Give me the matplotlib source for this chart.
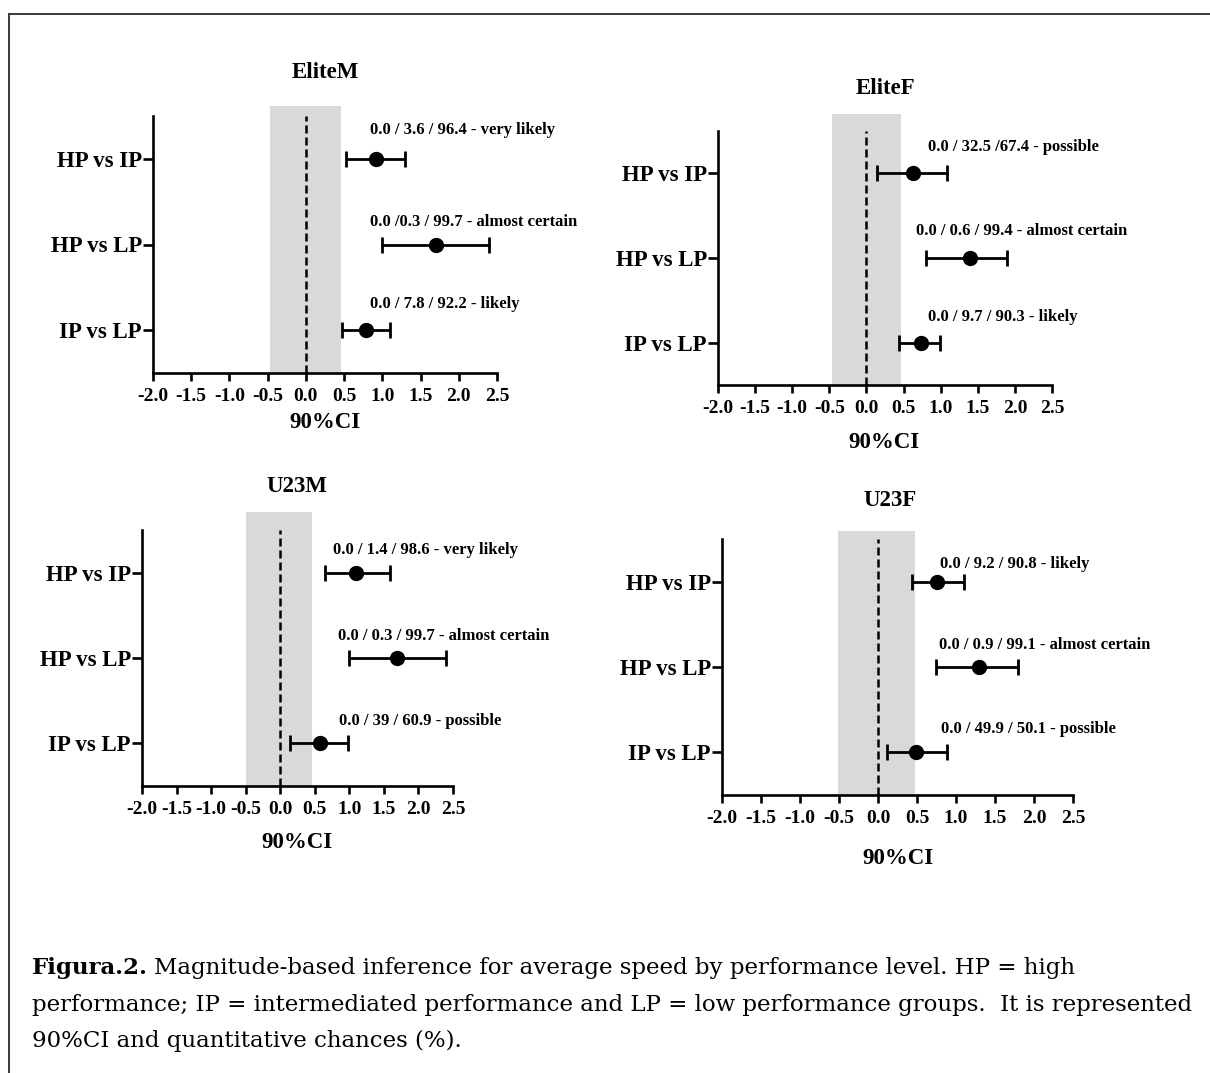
import numpy as np
import matplotlib
matplotlib.use('Agg')
import matplotlib.pyplot as plt
from matplotlib.lines import Line2D

plt.rcParams['font.family'] = 'Liberation Serif'
plt.rcParams['axes.unicode_minus'] = False

W, H = 1210, 1073

comparisons = ['HP vs IP', 'HP vs LP', 'IP vs LP']
xticks = [-2.0, -1.5, -1.0, -0.5, 0.0, 0.5, 1.0, 1.5, 2.0, 2.5]

# EliteM
elite_m_mean = [0.92, 1.70, 0.78]
elite_m_low = [0.53, 0.99, 0.47]
elite_m_high = [1.30, 2.40, 1.10]
elite_m_text = ['0.0 / 3.6 / 96.4 - very likely',
                '0.0 /0.3 / 99.7 - almost certain',
                '0.0 / 7.8 / 92.2 - likely']
elite_m_band = [-0.47, 0.46]

# EliteF
elite_f_mean = [0.63, 1.40, 0.74]
elite_f_low = [0.14, 0.80, 0.44]
elite_f_high = [1.09, 1.90, 0.99]
elite_f_text = ['0.0 / 32.5 /67.4 - possible',
                '0.0 / 0.6 / 99.4 - almost certain',
                '0.0 / 9.7 / 90.3 - likely']
elite_f_band = [-0.47, 0.46]

# U23M
u23_m_mean = [1.09, 1.69, 0.57]
u23_m_low = [0.65, 0.99, 0.14]
u23_m_high = [1.59, 2.40, 0.98]
u23_m_text = ['0.0 / 1.4 / 98.6 - very likely',
              '0.0 / 0.3 / 99.7 - almost certain',
              '0.0 / 39 / 60.9 - possible']
u23_m_band = [-0.50, 0.46]

# U23F
u23_f_mean = [0.75, 1.29, 0.49]
u23_f_low = [0.43, 0.74, 0.12]
u23_f_high = [1.10, 1.79, 0.88]
u23_f_text = ['0.0 / 9.2 / 90.8 - likely',
              '0.0 / 0.9 / 99.1 - almost certain',
              '0.0 / 49.9 / 50.1 - possible']
u23_f_band = [-0.51, 0.48]

panels = [
    ('EliteM', elite_m_mean, elite_m_low, elite_m_high, elite_m_text, elite_m_band),
    ('EliteF', elite_f_mean, elite_f_low, elite_f_high, elite_f_text, elite_f_band),
    ('U23M', u23_m_mean, u23_m_low, u23_m_high, u23_m_text, u23_m_band),
    ('U23F', u23_f_mean, u23_f_low, u23_f_high, u23_f_text, u23_f_band),
]

# layout in pixels: axes left, right, top(y=3.5), bottom(y=0.5), band top (data), title xy, xlabel xy
boxes = [(153, 497, 116, 373, 3.62, (325, 73), (325, 423)),
         (718, 1052, 131, 385, 3.70, (885, 88), (884, 442)),
         (142, 453, 530, 786, 3.71, (297, 486), (297, 843)),
         (722, 1073, 539, 795, 3.59, (890, 500), (898, 859))]
ann_x = [[0.84, 0.84, 0.84], [0.835, 0.67, 0.835], [0.77, 0.84, 0.855], [0.79, 0.785, 0.81]]
ann_dy = [[0.34, 0.26, 0.30], [0.31, 0.32, 0.30], [0.26, 0.26, 0.26], [0.21, 0.26, 0.27]]

fig = plt.figure(figsize=(W / 100, H / 100), dpi=100)

ypos = np.array([3, 2, 1])
for i, (name, mean, low, high, texts, band) in enumerate(panels):
    l, r, t, b, btop, tpos, lpos = boxes[i]
    ax = fig.add_axes([l / W, 1 - b / H, (r - l) / W, (b - t) / H])
    mean = np.array(mean)
    xerr = [mean - np.array(low), np.array(high) - mean]

    ax.fill_betweenx([0.5, btop], band[0], band[1], color='#d9d9d9', lw=0,
                     zorder=0, clip_on=False)
    ax.plot([0, 0], [0.5, 3.5], color='black', lw=1.8, ls=(0, (3.2, 1.6)), zorder=1)
    ax.errorbar(mean, ypos, xerr=xerr, fmt='o', color='black', ms=10,
                elinewidth=2, capsize=6, capthick=2, zorder=3)

    for j in range(3):
        ax.text(ann_x[i][j], ypos[j] + ann_dy[i][j], texts[j], fontsize=12,
                fontweight='bold', va='center', ha='left')

    ax.set_xlim(-2, 2.5)
    ax.set_ylim(0.5, 3.5)
    ax.set_xticks(xticks)
    ax.set_xticklabels(['%.1f' % v for v in xticks])
    ax.set_yticks(ypos)
    ax.set_yticklabels(comparisons)
    for s in ['top', 'right']:
        ax.spines[s].set_visible(False)
    for s in ['left', 'bottom']:
        ax.spines[s].set_linewidth(1.9)
    ax.tick_params(axis='x', direction='out', length=6, width=1.9, pad=5, labelsize=14)
    ax.tick_params(axis='y', direction='out', length=7, width=1.9, pad=1, labelsize=16.5)
    for lab in ax.get_xticklabels() + ax.get_yticklabels():
        lab.set_fontweight('bold')

    fig.text(tpos[0] / W, 1 - tpos[1] / H, name, fontsize=16.5, fontweight='bold',
             ha='center', va='center')
    fig.text(lpos[0] / W, 1 - lpos[1] / H, '90%CI', fontsize=16.5, fontweight='bold',
             ha='center', va='center')

# frame
fig.add_artist(Line2D([8.5 / W, 8.5 / W], [0, 1 - 14 / H], color='#3a3a3a', lw=1.4))
fig.add_artist(Line2D([8.5 / W, 1], [1 - 14 / H, 1 - 14 / H], color='#3a3a3a', lw=1.4))

# caption
cap_font = 'DejaVu Serif'
cap_size = 16.5
renderer = fig.canvas.get_renderer()
t1 = fig.text(32 / W, 1 - 968 / H, 'Figura.2.', fontsize=cap_size, fontweight='bold',
              family=cap_font, va='center', ha='left')
bb = t1.get_window_extent(renderer)
fig.text(bb.x1 / W + 6 / W, 1 - 968 / H,
         'Magnitude-based inference for average speed by performance level. HP = high',
         fontsize=cap_size, family=cap_font, va='center', ha='left')
fig.text(32 / W, 1 - 1005 / H,
         'performance; IP = intermediated performance and LP = low performance groups.  It is represented',
         fontsize=cap_size, family=cap_font, va='center', ha='left')
fig.text(32 / W, 1 - 1041 / H, '90%CI and quantitative chances (%).',
         fontsize=cap_size, family=cap_font, va='center', ha='left')

fig.savefig('out.png', dpi=100)
